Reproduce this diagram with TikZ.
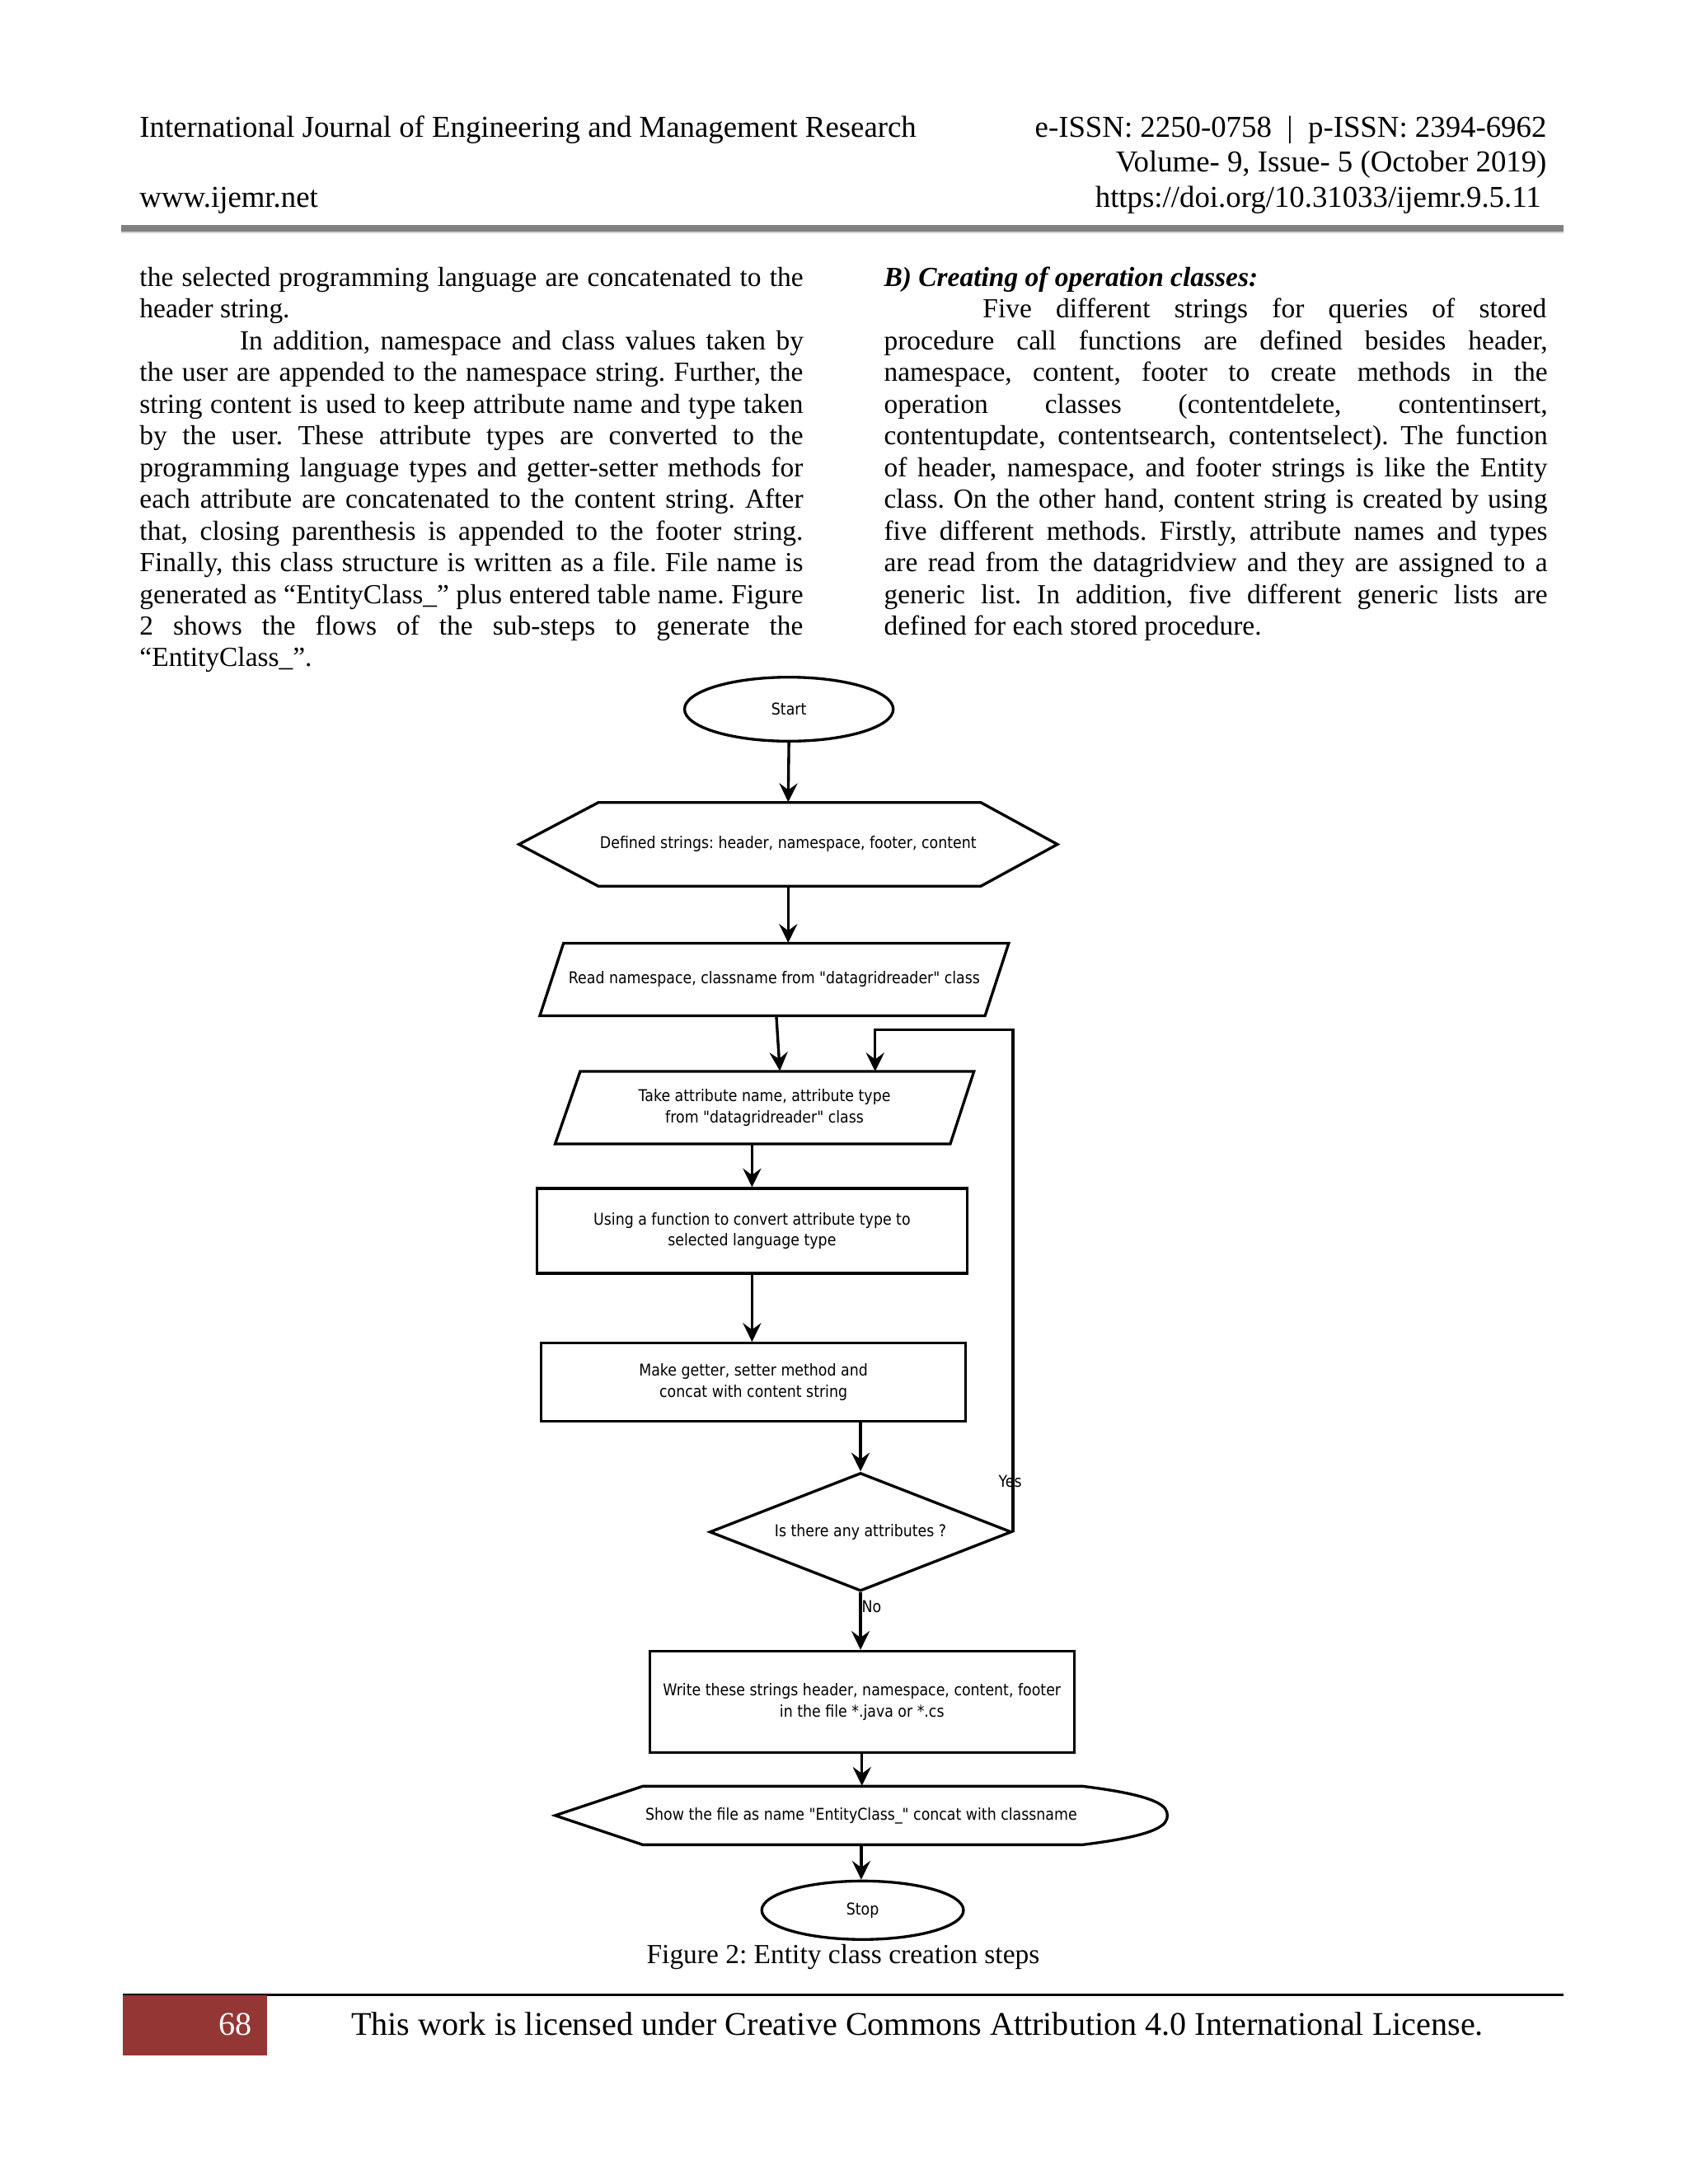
\documentclass[tikz,border=0pt]{standalone}
\usepackage{fontspec}
\setmainfont{Liberation Serif}
\newfontfamily\fcfont[FakeStretch=0.88]{DejaVu Sans}
\usetikzlibrary{shapes.geometric,arrows.meta,calc}
\def\pxu{0.5045pt}
\definecolor{hdrgray}{RGB}{128,128,128}
\definecolor{pgred}{RGB}{148,54,52}
\newcommand\jl[4]{\node[bodytxt] (#1) at #2 {\makebox[#3][s]{#4}};}
\begin{document}
\frenchspacing
\begin{tikzpicture}[x=0.5045pt,y=-0.50526pt,
  fc/.style={font=\fcfont\fontsize{5.9}{7.6}\selectfont, align=center, inner sep=0pt},
  box/.style={fc, draw, line width=1pt, rectangle},
  shp/.style={fc, draw=none, rectangle},
  outl/.style={line width=1pt, line join=miter},
  arr/.style={line width=1pt, -{Stealth[length=6.8pt,width=6.6pt,inset=2.4pt]}},
  bodytxt/.style={font=\fontsize{10}{11.4}\selectfont, inner sep=0pt, anchor=base west},
  hdr/.style={font=\fontsize{11}{12.6}\selectfont, inner sep=0pt},
]
\fill[white] (0,-1) rectangle (1213,1566.5);
\useasboundingbox (0,-1) rectangle (1213,1566.5);

% ---------- page header ----------
\node[hdr, anchor=base west] (h1) at (100,97.5) {International Journal of Engineering and Management Research};
\node[hdr, anchor=base east] (h2) at (1112,97.5) {e-ISSN: 2250-0758 \ | \ p-ISSN: 2394-6962};
\node[hdr, anchor=base east] (h3) at (1112,122.5) {Volume- 9, Issue- 5 (October 2019)};
\node[hdr, anchor=base west] (h4) at (100,147.5) {www.ijemr.net};
\node[hdr, anchor=base east] (h5) at (1108,147.5) {https://doi.org/10.31033/ijemr.9.5.11};
\draw[hdrgray, line width=2.4pt] (87,163) -- (1124,163);
\draw[gray!35, line width=0.5pt] (87,166) -- (1124,166);

% ---------- left column ----------
\jl{l0}{(100,204.5)}{240.6pt}{the selected programming language are concatenated to the}
\node[bodytxt] (l1) at (100,227.25) {header string.};
\jl{l2}{(172,250)}{204.4pt}{In addition, namespace and class values taken by}
\jl{l3}{(100,272.75)}{240.6pt}{the user are appended to the namespace string. Further, the}
\jl{l4}{(100,295.5)}{240.6pt}{string content is used to keep attribute name and type taken}
\jl{l5}{(100,318.25)}{240.6pt}{by the user. These attribute types are converted to the}
\jl{l6}{(100,341)}{240.6pt}{programming language types and getter-setter methods for}
\jl{l7}{(100,363.75)}{240.6pt}{each attribute are concatenated to the content string. After}
\jl{l8}{(100,386.5)}{240.6pt}{that, closing parenthesis is appended to the footer string.}
\jl{l9}{(100,409.25)}{240.6pt}{Finally, this class structure is written as a file. File name is}
\jl{l10}{(100,432)}{240.6pt}{generated as “EntityClass\_” plus entered table name. Figure}
\jl{l11}{(100,454.75)}{240.6pt}{2 shows the flows of the sub-steps to generate the}
\node[bodytxt] (l12) at (100,477.5) {“EntityClass\_”.};

% ---------- right column ----------
\node[bodytxt] (r0) at (635,204.5) {\textbf{\textit{B) Creating of operation classes:}}};
\jl{r1}{(706,227.25)}{204.4pt}{Five different strings for queries of stored}
\jl{r2}{(635,250)}{240.6pt}{procedure call functions are defined besides header,}
\jl{r3}{(635,272.75)}{240.6pt}{namespace, content, footer to create methods in the}
\jl{r4}{(635,295.5)}{240.6pt}{operation classes (contentdelete, contentinsert,}
\jl{r5}{(635,318.25)}{240.6pt}{contentupdate, contentsearch, contentselect). The function}
\jl{r6}{(635,341)}{240.6pt}{of header, namespace, and footer strings is like the Entity}
\jl{r7}{(635,363.75)}{240.6pt}{class. On the other hand, content string is created by using}
\jl{r8}{(635,386.5)}{240.6pt}{five different methods. Firstly, attribute names and types}
\jl{r9}{(635,409.25)}{240.6pt}{are read from the datagridview and they are assigned to a}
\jl{r10}{(635,432)}{240.6pt}{generic list. In addition, five different generic lists are}
\node[bodytxt] (r11) at (635,454.75) {defined for each stored procedure.};

% ---------- flowchart ----------
\node[fc, draw, line width=1pt, ellipse, minimum width=150*\pxu, minimum height=46*\pxu] (start) at (567,508) {Start};

\node[shp, minimum width=387*\pxu, minimum height=60*\pxu] (def) at (566.5,605) {Defined strings: header, namespace, footer, content};
\draw[outl] (373,605) -- (430,575) -- (705,575) -- (760,605) -- (705,635) -- (430,635) -- cycle;

\node[shp, minimum width=337*\pxu, minimum height=52*\pxu] (read) at (556.5,702) {Read namespace, classname from "datagridreader" class};
\draw[outl] (405,676) -- (725,676) -- (708,728) -- (388,728) -- cycle;

\node[shp, minimum width=301*\pxu, minimum height=52*\pxu] (take) at (549.5,794) {Take attribute name, attribute type\\from "datagridreader" class};
\draw[outl] (417,768) -- (700,768) -- (683,820) -- (399,820) -- cycle;

\node[box, minimum width=309*\pxu, minimum height=61*\pxu] (conv) at (540.5,882.5) {Using a function to convert attribute type to\\selected language type};

\node[box, minimum width=305*\pxu, minimum height=56*\pxu] (make) at (541.5,991) {Make getter, setter method and\\concat with content string};

\node[fc, draw, line width=1pt, shape=diamond, aspect=2.55, minimum width=217*\pxu, minimum height=85*\pxu] (dec) at (618.5,1098.5) {Is there any attributes ?};

\node[box, minimum width=305*\pxu, minimum height=73*\pxu] (write) at (619.5,1220.5) {Write these strings header, namespace, content, footer\\in the file *.java or *.cs};

\node[shp, minimum width=440*\pxu, minimum height=42*\pxu] (show) at (619,1302) {Show the file as name "EntityClass\_" concat with classname};
\draw[outl] (399,1302) -- (462,1281) -- (778,1281) .. controls (835,1288) and (839,1296) .. (839,1302) .. controls (839,1308) and (835,1316) .. (778,1323) -- (462,1323) -- cycle;

\node[fc, draw, line width=1pt, ellipse, minimum width=145*\pxu, minimum height=42*\pxu] (stop) at (620,1370) {Stop};

% connectors
\draw[arr] (start.south) -- (def.north);
\draw[arr] (def.south) -- (def.south |- read.north);
\draw[arr] ($(read.south)+(1.5,0)$) -- ($(take.north)+(11,0)$);
\draw[arr] (conv.north |- take.south) -- (conv.north);
\draw[arr] (conv.south) -- (conv.south |- make.north);
\draw[arr] (make.south -| dec.north) -- (dec.north);
\coordinate (looptop) at (727,738);
\coordinate (loopin) at (629,768);
\draw[arr] (dec.east) -- (dec.east |- looptop) -| (loopin);
\node[fc] (yes) at (726,1062) {Yes};
\draw[arr] (dec.south) -- (dec.south |- write.north);
\node[fc, anchor=west] (no) at (619,1152) {No};
\draw[arr] (write.south) -- (write.south |- show.north);
\draw[arr] (show.south) -- (show.south |- stop.north);

% caption
\node[font=\fontsize{10}{11.4}\selectfont, inner sep=0pt, anchor=base] (cap) at (606,1408) {Figure 2: Entity class creation steps};

% ---------- footer ----------
\draw[black, line width=0.9pt] (88,1431) -- (1124,1431);
\fill[pgred] (88,1431) rectangle (192,1474);
\node[font=\fontsize{12}{14}\selectfont, text=white, inner sep=0pt, anchor=base] (pg) at (169,1460) {68};
\node[font=\fontsize{12}{14}\selectfont, inner sep=0pt, anchor=base west] (lic) at (252,1460) {This work is licensed under Creative Commons Attribution 4.0 International License.};
\end{tikzpicture}
\end{document}
